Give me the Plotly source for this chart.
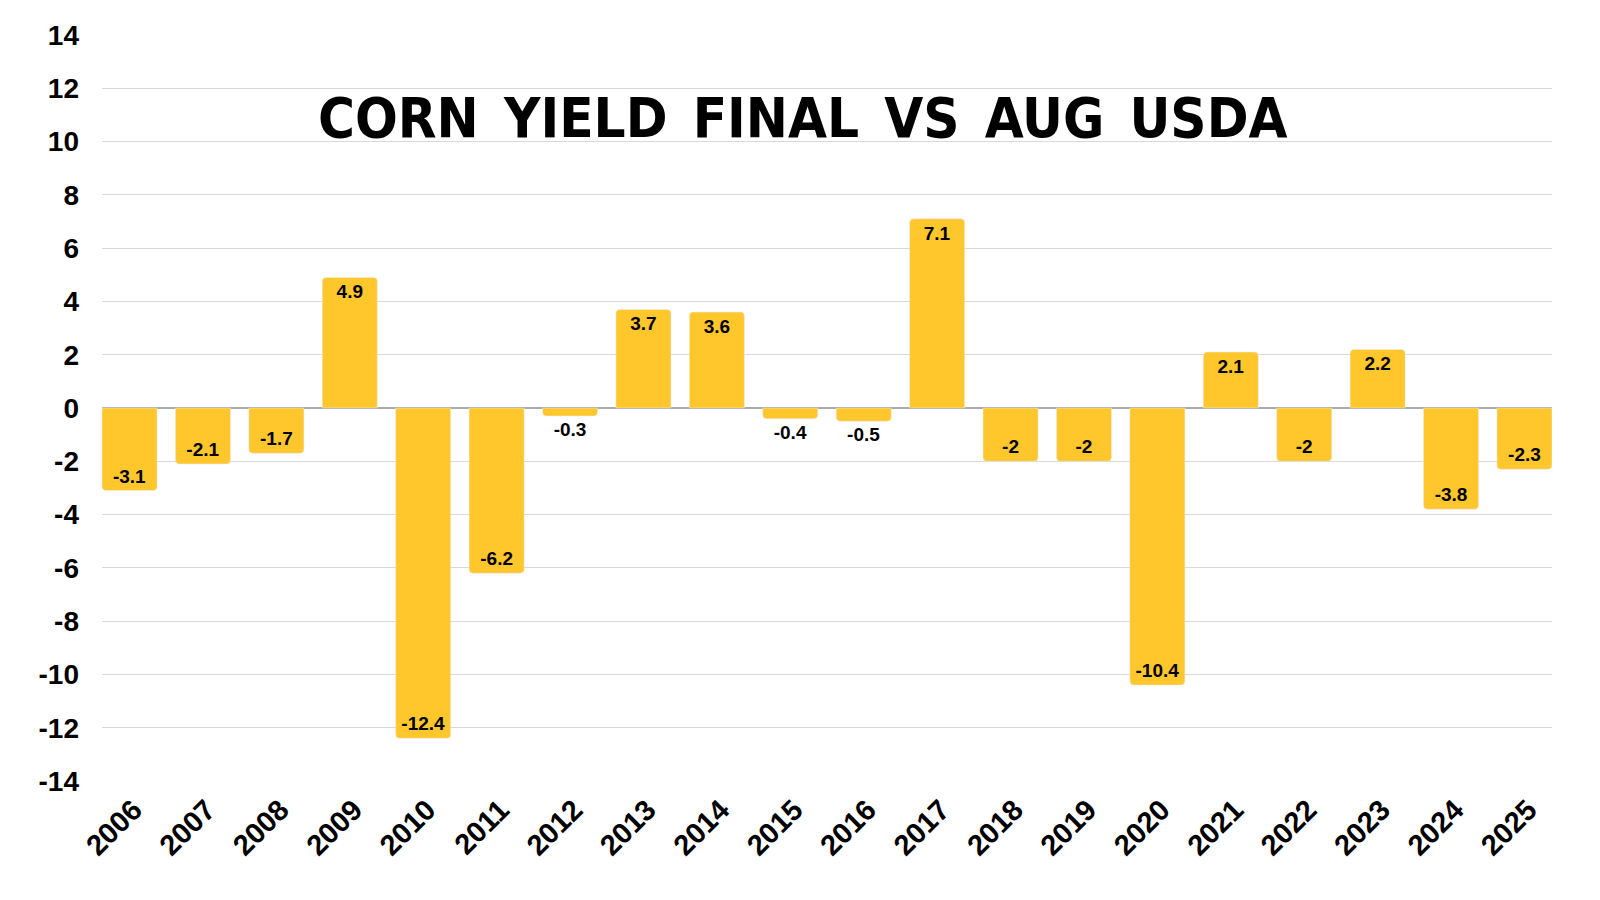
import plotly.graph_objects as go

years = [str(y) for y in range(2006, 2026)]
diffs = [-3.1, -2.1, -1.7, 4.9, -12.4, -6.2, -0.3, 3.7, 3.6, -0.4,
         -0.5, 7.1, -2, -2, -10.4, 2.1, -2, 2.2, -3.8, -2.3]
y_ticks = list(range(-14, 15, 2))
y_tick_text = [str(v) for v in y_ticks]  # plain hyphen minus like the original
title_text = "CORN YIELD FINAL VS AUG USDA"


def spaced(s):
    # a bit of extra room between the words of the title
    return "\u2002".join(s.split(" "))


fig = go.Figure(go.Bar(
    x=years, y=diffs,
    marker=dict(color="#FFC72C", cornerradius=4),
    text=[f"{v:g}" for v in diffs],
    textposition="auto",
    insidetextanchor="end",
    insidetextfont=dict(color="black", size=19, family="Liberation Sans", weight="bold"),
    outsidetextfont=dict(color="black", size=19, family="Liberation Sans", weight="bold"),
    textangle=0,
    cliponaxis=False,
))

# page has an 8px body margin, so margins are shifted by that amount
fig.update_layout(
    width=1600, height=900,
    paper_bgcolor="white", plot_bgcolor="white",
    margin=dict(l=94, r=56, t=27, b=127),
    bargap=0.25,
    showlegend=False,
    font=dict(family="Liberation Sans", color="black"),
    xaxis=dict(
        type="category", range=[-0.375, 19.375],
        tickangle=-45, tickfont=dict(size=29, family="Liberation Sans", weight="bold"),
        showgrid=False, ticks="",
        ticklabelstandoff=5, ticklabelshift=4,
    ),
    yaxis=dict(
        range=[-14, 14], tickvals=y_ticks, ticktext=y_tick_text,
        tickfont=dict(size=28, family="Liberation Sans", weight="bold"),
        gridcolor="#D9D9D9", gridwidth=1,
        zeroline=True, zerolinecolor="#ABABAB", zerolinewidth=1.5,
        ticklabelstandoff=22,
    ),
    annotations=[dict(
        text=spaced(title_text),
        x=0.483, y=0.889, xref="paper", yref="paper",
        xanchor="center", yanchor="middle",
        showarrow=False,
        font=dict(size=56, family="DejaVu Sans Condensed", color="black", weight="bold"),
    )],
)

fig.write_html("out.html")
